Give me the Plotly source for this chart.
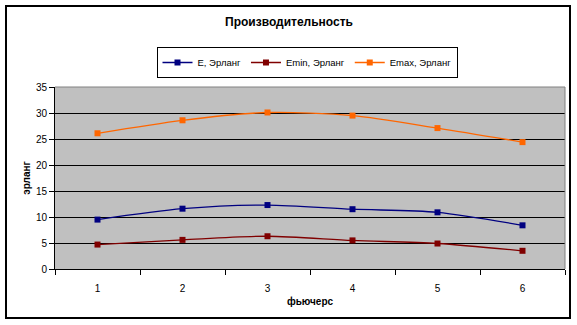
import plotly.graph_objects as go

# Данные: производительность по фьючерсам
futures = [1, 2, 3, 4, 5, 6]
e_vals = [9.5, 11.6, 12.3, 11.5, 10.9, 8.4]
emin_vals = [4.7, 5.6, 6.3, 5.5, 4.9, 3.5]
emax_vals = [26.1, 28.6, 30.1, 29.5, 27.1, 24.4]
y_ticks = [0, 5, 10, 15, 20, 25, 30, 35]

series = [
    ("E, Эрланг", e_vals, "#000080"),
    ("Emin, Эрланг", emin_vals, "#800000"),
    ("Emax, Эрланг", emax_vals, "#FF6600"),
]

FONT = "Liberation Sans, Arial, sans-serif"
W, H = 577, 325
L, R, T, B = 55, 565, 87, 269  # plot area in pixels
pw, ph = R - L, B - T


def px(x):
    return (x - L) / pw


def py(y):
    return (B - y) / ph


fig = go.Figure()
for name, vals, color in series:
    fig.add_trace(go.Scatter(
        x=futures, y=vals, name=name, mode="lines+markers",
        line=dict(color=color, width=1.3, shape="spline", smoothing=0.8),
        marker=dict(symbol="square", size=6, color=color),
    ))

fig.update_layout(
    width=W, height=H,
    margin=dict(l=L, r=W - R, t=T, b=H - B, pad=0),
    paper_bgcolor="white",
    plot_bgcolor="#C0C0C0",
    font=dict(family=FONT, size=10, color="black"),
    title=dict(text="<b>Производительность</b>", font=dict(size=12, family=FONT),
               x=289 / W, xanchor="center", y=1 - 22 / H, yanchor="middle",
               xref="container", yref="container"),
    showlegend=True,
    legend=dict(orientation="h", x=px(307), xanchor="center", y=py(47), yanchor="top",
                bordercolor="black", borderwidth=1, bgcolor="white",
                font=dict(size=9.5, family=FONT), itemwidth=30,
                tracegroupgap=0, itemclick=False),
    xaxis=dict(
        range=[0.5, 6.5], tickvals=futures, ticktext=[str(v) for v in futures],
        ticks="", showgrid=False, zeroline=False,
        showline=True, linecolor="black", linewidth=1,
        ticklabelstandoff=10,
        minor=dict(tickmode="array", tickvals=[0.5 + i for i in range(7)],
                   ticks="outside", ticklen=5, tickcolor="black", showgrid=False),
        title=dict(text="<b>фьючерс</b>", font=dict(size=10, family=FONT), standoff=4),
        fixedrange=True,
    ),
    yaxis=dict(
        range=[0, 35], tickvals=y_ticks, ticks="outside", ticklen=5, tickcolor="black",
        showgrid=True, gridcolor="black", gridwidth=1, zeroline=False,
        showline=True, linecolor="black", linewidth=1,
        title=dict(text="<b>эрланг</b>", font=dict(size=10, family=FONT), standoff=3),
        fixedrange=True,
    ),
    shapes=[
        # top and right edges of the plot area
        dict(type="line", xref="paper", yref="paper", x0=0, x1=1, y0=1, y1=1,
             line=dict(color="#808080", width=1)),
        dict(type="line", xref="paper", yref="paper", x0=1, x1=1, y0=0, y1=1,
             line=dict(color="#808080", width=1)),
        # chart frame
        dict(type="rect", xref="paper", yref="paper",
             x0=px(6), x1=px(570), y0=py(318), y1=py(6),
             line=dict(color="black", width=2), fillcolor="rgba(0,0,0,0)"),
    ],
)

fig.write_html("out.html")
